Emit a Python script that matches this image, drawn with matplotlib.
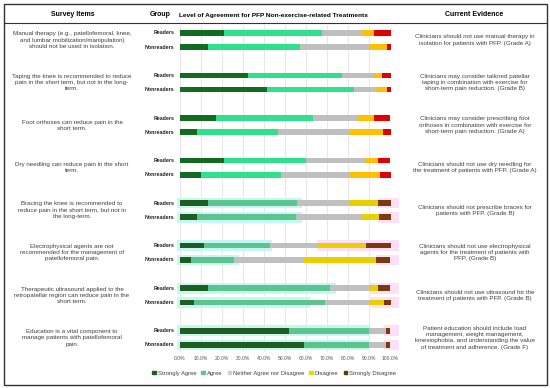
import matplotlib
matplotlib.use('Agg')
import matplotlib.pyplot as plt
import matplotlib.transforms as mtransforms
from matplotlib.patches import Patch, Rectangle
from matplotlib.lines import Line2D

plt.rcParams['font.family'] = ['Liberation Sans', 'DejaVu Sans']

# survey statements and guideline evidence
items = [
    "Manual therapy (e.g., patellofemoral, knee,\nand lumbar mobilization/manipulation)\nshould not be used in isolation.",
    "Taping the knee is recommended to reduce\npain in the short term, but not in the long-\nterm.",
    "Foot orthoses can reduce pain in the\nshort term.",
    "Dry needling can reduce pain in the short\nterm.",
    "Bracing the knee is recommended to\nreduce pain in the short term, but not in\nthe long-term.",
    "Electrophysical agents are not\nrecommended for the management of\npatellofemoral pain.",
    "Therapeutic ultrasound applied to the\nretropatellar region can reduce pain in the\nshort term.",
    "Education is a vital component to\nmanage patients with patellofemoral\npain.",
]
evidence = [
    "Clinicians should not use manual therapy in\nisolation for patients with PFP. (Grade A)",
    "Clinicians may consider tailored patellar\ntaping in combination with exercise for\nshort-term pain reduction. (Grade B)",
    "Clinicians may consider prescribing foot\northoses in combination with exercise for\nshort-term pain reduction. (Grade A)",
    "Clinicians should not use dry needling for\nthe treatment of patients with PFP. (Grade A)",
    "Clinicians should not prescribe braces for\npatients with PFP. (Grade B)",
    "Clinicians should not use electrophysical\nagents for the treatment of patients with\nPFP. (Grade B)",
    "Clinicians should not use ultrasound for the\ntreatment of patients with PFP. (Grade B)",
    "Patient education should include load\nmanagement, weight management,\nkinesiophobia, and understanding the value\nof treatment and adherence. (Grade F)",
]
groups = ['Readers', 'Nonreaders']
categories = ['Strongly Agree', 'Agree', 'Neither Agree nor Disagree', 'Disagree', 'Strongly Disagree']

# percentages
readers_sa = [21.2, 32.7, 17.2, 21.2, 13.4, 11.7, 13.4, 52.0]
readers_a = [46.3, 44.2, 46.3, 38.7, 42.2, 31.0, 57.7, 38.0]
readers_n = [18.9, 15.4, 21.3, 28.6, 25.3, 22.7, 18.9, 7.9]
readers_d = [6.0, 3.9, 7.6, 5.8, 13.4, 23.1, 4.3, 0.0]
readers_sd = [7.6, 3.8, 7.6, 5.7, 5.7, 11.5, 5.7, 2.1]

nonreaders_sa = [13.7, 41.4, 8.5, 10.3, 8.5, 5.4, 7.0, 58.8]
nonreaders_a = [43.2, 41.5, 38.1, 37.9, 46.8, 20.5, 62.0, 30.8]
nonreaders_n = [32.7, 10.3, 34.3, 32.7, 31.1, 32.9, 20.6, 8.3]
nonreaders_d = [8.7, 5.1, 15.5, 14.2, 8.2, 34.4, 7.1, 0.0]
nonreaders_sd = [1.7, 1.7, 3.6, 4.9, 5.4, 6.8, 3.3, 2.1]

# first four rows use bright colours, last four use the muted ones
bright = ['#136b1f', '#2fe08c', '#bfbfbf', '#ffc000', '#e00000']
muted = ['#1f5e1f', '#5cc48c', '#c0c0c0', '#e8d000', '#7a3a0a']
legend_colors = ['#1f5e1f', '#6cc090', '#d0d0d0', '#e0e000', '#5a3a0a']

# light highlight bands behind the lower rows (cyan end, pink start)
cyan_end = [58, 58, 44, 28, 74, 62, 90, 90]
pink_start = [94, 94, 65, 93, 90, 90, 97, 97]

W, H = 550, 388
fig = plt.figure(figsize=(W / 100, H / 100), dpi=100)


def fx(px):
    return px / W


def fy(py):
    return 1 - py / H


ax = fig.add_axes([fx(179.5), fy(352), 211 / W, (352 - 25) / H])
ax.set_xlim(0, 100)
ax.set_ylim(22.5, -0.56)

for v in range(0, 101, 10):
    ax.axvline(v, color='#e3e3e3', lw=0.6, zorder=0)

readers = [readers_sa, readers_a, readers_n, readers_d, readers_sd]
nonreaders = [nonreaders_sa, nonreaders_a, nonreaders_n, nonreaders_d, nonreaders_sd]

for i in range(len(items)):
    pal = bright if i < 4 else muted
    for g, data in enumerate([readers, nonreaders]):
        y = i * 3 + g
        if i >= 4:
            k = (i - 4) * 2 + g
            ax.barh(y, cyan_end[k] + 1, left=-1, height=0.75, color='#c6f7f7', zorder=1, clip_on=False)
            ax.barh(y, 104 - pink_start[k], left=pink_start[k], height=0.75, color='#fde0f8', zorder=1, clip_on=False)
        left = 0
        for c in range(5):
            val = data[c][i]
            ax.barh(y, val, left=left, height=0.4, color=pal[c], zorder=2)
            left += val

ax.set_yticks([])
ax.set_xticks(range(0, 101, 10))
ax.set_xticklabels(['%.1f%%' % v for v in range(0, 101, 10)], fontsize=3.6, color='#555555')
ax.tick_params(axis='x', length=0, pad=3)
for s in ax.spines.values():
    s.set_visible(False)

# text columns, x in figure fraction and y in data units
trans = mtransforms.blended_transform_factory(fig.transFigure, ax.transData)
for i in range(len(items)):
    ym = i * 3 + 0.5
    ax.text(fx(72), ym, items[i], transform=trans, ha='center', va='center',
            fontsize=4.5, color='#404040', linespacing=1.3, clip_on=False)
    ax.text(fx(475), ym, evidence[i], transform=trans, ha='center', va='center',
            fontsize=4.5, color='#404040', linespacing=1.3, clip_on=False)
    for g in range(2):
        ax.text(fx(174), i * 3 + g, groups[g], transform=trans, ha='right', va='center',
                fontsize=3.8, fontweight='bold', color='#222222', clip_on=False)

# header row
fig.text(fx(73), fy(15), 'Survey Items', ha='center', va='center', fontsize=5, fontweight='bold')
fig.text(fx(160), fy(15), 'Group', ha='center', va='center', fontsize=5, fontweight='bold')
fig.text(fx(273), fy(15), 'Level of Agreement for PFP Non-exercise-related Treatments',
         ha='center', va='center', fontsize=4.65, fontweight='bold')
fig.text(fx(474), fy(15), 'Current Evidence', ha='center', va='center', fontsize=5, fontweight='bold')

# table frame
fig.patches.append(Rectangle((fx(4), fy(385)), (547 - 4) / W, (385 - 4) / H, transform=fig.transFigure,
                             fill=False, edgecolor='#333333', lw=1.0))
fig.lines.append(Line2D([fx(4), fx(547)], [fy(22.5), fy(22.5)], transform=fig.transFigure,
                        color='#333333', lw=0.8))

handles = [Patch(color=legend_colors[c], label=categories[c]) for c in range(5)]
fig.legend(handles=handles, loc='center', bbox_to_anchor=(fx(274), fy(373)), ncol=5,
           fontsize=4.2, frameon=False, handlelength=0.6, handleheight=0.6,
           columnspacing=0.9, handletextpad=0.3, labelcolor='#404040')

fig.savefig('out.png', dpi=100)
